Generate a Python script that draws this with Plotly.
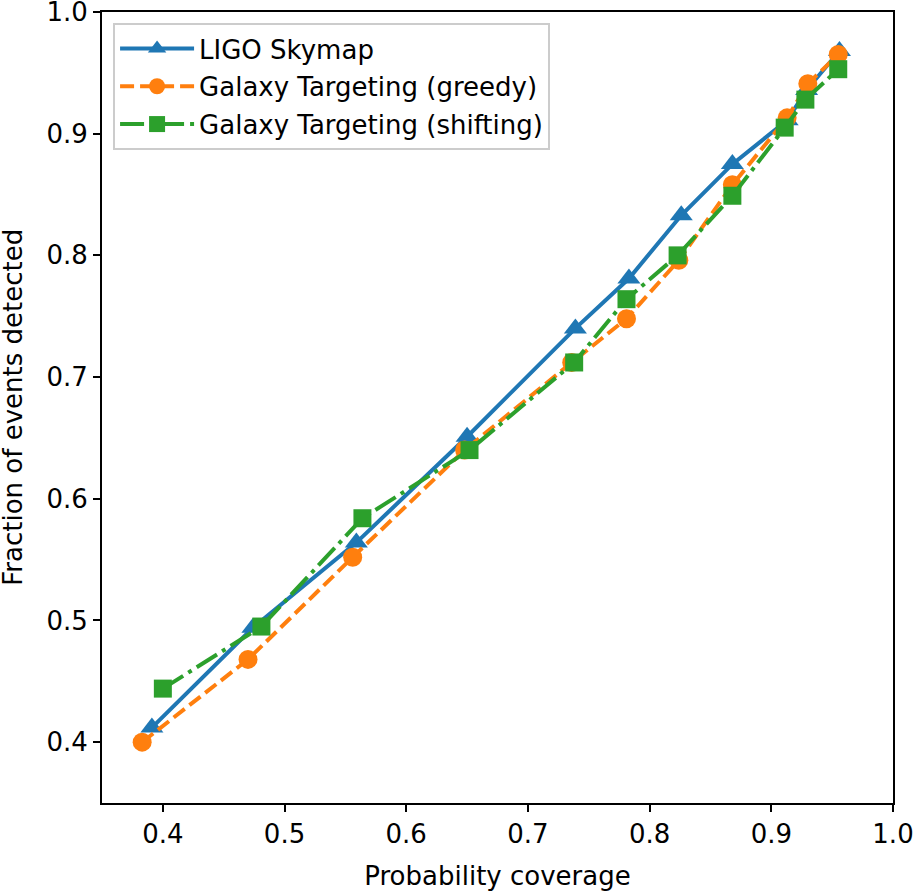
import plotly.graph_objects as go

# LIGO skymap curve
ligo_x = [0.391, 0.474, 0.559, 0.650, 0.739, 0.783, 0.826, 0.868, 0.913, 0.929, 0.956]
ligo_y = [0.412, 0.494, 0.564, 0.651, 0.740, 0.781, 0.833, 0.875, 0.911, 0.936, 0.968]

# galaxy targeting, greedy
greedy_x = [0.383, 0.470, 0.556, 0.648, 0.736, 0.781, 0.824, 0.868, 0.913, 0.930, 0.955]
greedy_y = [0.400, 0.468, 0.552, 0.640, 0.712, 0.748, 0.796, 0.858, 0.913, 0.941, 0.965]

# galaxy targeting, shifting
shift_x = [0.400, 0.481, 0.564, 0.652, 0.738, 0.781, 0.823, 0.868, 0.911, 0.928, 0.955]
shift_y = [0.444, 0.495, 0.584, 0.640, 0.712, 0.764, 0.800, 0.849, 0.905, 0.928, 0.953]

xticks = [0.4, 0.5, 0.6, 0.7, 0.8, 0.9, 1.0]
yticks = [0.4, 0.5, 0.6, 0.7, 0.8, 0.9, 1.0]

font = "DejaVu Sans"
fsize = 26

fig = go.Figure()

fig.add_trace(go.Scatter(
    x=ligo_x, y=ligo_y, mode="lines+markers", name="LIGO Skymap",
    line=dict(color="#1f77b4", width=4),
    marker=dict(symbol="triangle-up", size=20, color="#1f77b4"),
    legendgroup="a"))
fig.add_trace(go.Scatter(
    x=greedy_x, y=greedy_y, mode="lines+markers", name="Galaxy Targeting (greedy)",
    line=dict(color="#ff7f0e", width=4, dash="14px,6px"),
    marker=dict(symbol="circle", size=19, color="#ff7f0e"),
    legendgroup="b"))
fig.add_trace(go.Scatter(
    x=shift_x, y=shift_y, mode="lines+markers", name="Galaxy Targeting (shifting)",
    line=dict(color="#2ca02c", width=4, dash="24px,6px,4px,6px"),
    marker=dict(symbol="square", size=18, color="#2ca02c"),
    legendgroup="c"))

axis = dict(
    showgrid=False, zeroline=False, automargin=False,
    showline=True, linecolor="black", linewidth=2, mirror=True,
    ticks="outside", ticklen=7, tickwidth=2, tickcolor="black",
    tickformat=".1f", tickfont=dict(family=font, size=fsize, color="black"),
    ticklabeloverflow="allow",
)

fig.update_xaxes(axis, range=[0.35, 1.0], tickvals=xticks,
                 title=dict(text="Probability coverage",
                            font=dict(family=font, size=fsize, color="black"),
                            standoff=19))
fig.update_yaxes(axis, range=[0.35, 1.0], tickvals=yticks)

fig.add_annotation(
    text="Fraction of events detected", xref="paper", yref="paper",
    x=-0.1135, y=0.5, xanchor="center", yanchor="middle",
    textangle=-90, showarrow=False,
    font=dict(family=font, size=fsize, color="black"))

fig.update_layout(
    width=917, height=892,
    margin=dict(l=102, r=24, t=12, b=89),
    plot_bgcolor="white", paper_bgcolor="white",
    font=dict(family=font, size=fsize, color="black"),
    legend=dict(
        x=0.014, y=0.986, xanchor="left", yanchor="top",
        bgcolor="white", bordercolor="#cccccc", borderwidth=2,
        font=dict(family=font, size=fsize, color="black"),
        tracegroupgap=1, traceorder="grouped", itemwidth=74),
)

# drop the browser's default page margin so the figure sits at the window corner
fig.write_html("out.html", config={"displayModeBar": False},
               post_script="document.body.style.margin='0';")
